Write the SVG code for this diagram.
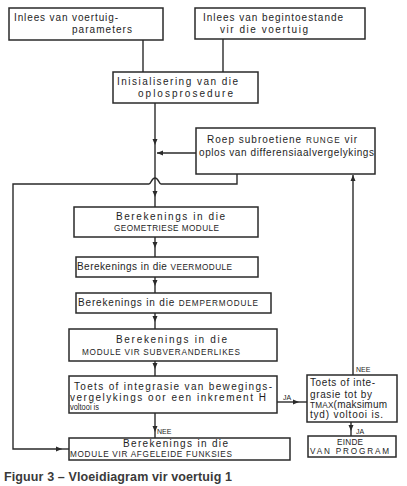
<svg xmlns="http://www.w3.org/2000/svg" width="407" height="486" viewBox="0 0 407 486">
<style>
.box{fill:#fff;stroke:#2a2a2a;stroke-width:1.5}
.c{fill:none;stroke:#2a2a2a;stroke-width:1.4}
text{font-family:"Liberation Sans",Arial,sans-serif;fill:#1e1e1e}
.t{font-size:10px}
.s{font-size:8.2px}
.lb{font-size:7px}
.cap{font-size:12.5px;font-weight:bold;fill:#3a3a3a}
</style>
<defs>
<marker id="ah" markerUnits="userSpaceOnUse" markerWidth="7" markerHeight="6" refX="6" refY="3" orient="auto">
<path d="M0,0.5 L6,3 L0,5.5 z" fill="#2a2a2a"/>
</marker>
</defs>
<rect width="407" height="486" fill="#fff"/>
<g id="connectors">
<path class="c" d="M143,40 V72"/>
<path class="c" d="M223,39 V72"/>
<path class="c" d="M155,103 V145" marker-end="url(#ah)"/>
<path class="c" d="M155,145 V197" marker-end="url(#ah)"/>
<path class="c" d="M155,197 V207"/>
<path class="c" d="M196,153 H157" marker-end="url(#ah)"/>
<path class="c" d="M237,174 V184 H161 C159,184 158.5,178 155,178 C151.5,178 151,184 149,184 H13 V449 H62" marker-end="url(#ah)"/>
<path class="c" d="M62,449 H69"/>
<path class="c" d="M155,237 V248" marker-end="url(#ah)"/>
<path class="c" d="M155,248 V257"/>
<path class="c" d="M155,277 V286" marker-end="url(#ah)"/>
<path class="c" d="M155,286 V293"/>
<path class="c" d="M155,313 V322" marker-end="url(#ah)"/>
<path class="c" d="M155,322 V329"/>
<path class="c" d="M155,361 V369" marker-end="url(#ah)"/>
<path class="c" d="M155,369 V376"/>
<path class="c" d="M155,413 V432" marker-end="url(#ah)"/>
<path class="c" d="M155,432 V438"/>
<path class="c" d="M277,402 H299" marker-end="url(#ah)"/>
<path class="c" d="M299,402 H307"/>
<path class="c" d="M353,375 V175" marker-end="url(#ah)"/>
<path class="c" d="M351,422 V431" marker-end="url(#ah)"/>
<path class="c" d="M351,431 V436"/>
<text class="lb" x="157" y="434">NEE</text>
<text class="lb" x="356" y="372">NEE</text>
<text class="lb" x="283" y="400">JA</text>
<text class="lb" x="356" y="434">JA</text>
</g>
<g id="n1">
<rect class="box" x="9" y="8" width="154" height="32"/>
<text class="t" x="14" y="21" textLength="104" lengthAdjust="spacing">Inlees van voertuig-</text>
<text class="t" x="72" y="33" textLength="60" lengthAdjust="spacing">parameters</text>
</g>
<g id="n2">
<rect class="box" x="195" y="8" width="170" height="31"/>
<text class="t" x="203" y="21" textLength="140" lengthAdjust="spacing">Inlees van begintoestande</text>
<text class="t" x="220" y="33" textLength="88" lengthAdjust="spacing">vir die voertuig</text>
</g>
<g id="n3">
<rect class="box" x="113" y="72" width="145" height="31"/>
<text class="t" x="117" y="85" textLength="121" lengthAdjust="spacing">Inisialisering van die</text>
<text class="t" x="138" y="97" textLength="95" lengthAdjust="spacing">oplosprosedure</text>
</g>
<g id="n4">
<rect class="box" x="196" y="128" width="179" height="46"/>
<text class="t" x="207" y="143" textLength="150" lengthAdjust="spacing">Roep subroetiene <tspan class="s">RUNGE</tspan> vir</text>
<text class="t" x="199" y="156" textLength="175" lengthAdjust="spacing">oplos van differensiaalvergelykings</text>
</g>
<g id="n5">
<rect class="box" x="74" y="207" width="184" height="30"/>
<text class="t" x="116" y="220" textLength="109" lengthAdjust="spacing">Berekenings in die</text>
<text class="s" x="114" y="231" textLength="105" lengthAdjust="spacing">GEOMETRIESE MODULE</text>
</g>
<g id="n6">
<rect class="box" x="76" y="257" width="182" height="20"/>
<text class="t" x="77" y="270" textLength="155" lengthAdjust="spacing">Berekenings in die <tspan class="s">VEERMODULE</tspan></text>
</g>
<g id="n7">
<rect class="box" x="76" y="293" width="195" height="20"/>
<text class="t" x="78" y="306" textLength="180" lengthAdjust="spacing">Berekenings in die <tspan class="s">DEMPERMODULE</tspan></text>
</g>
<g id="n8">
<rect class="box" x="69" y="329" width="208" height="32"/>
<text class="t" x="116" y="343" textLength="111" lengthAdjust="spacing">Berekenings in die</text>
<text class="s" x="82" y="355" textLength="158" lengthAdjust="spacing">MODULE VIR SUBVERANDERLIKES</text>
</g>
<g id="n9">
<rect class="box" x="69" y="376" width="208" height="37"/>
<text class="t" x="74" y="390" textLength="198" lengthAdjust="spacing">Toets of integrasie van bewegings-</text>
<text class="t" x="70" y="401" textLength="196" lengthAdjust="spacing">vergelykings oor een inkrement H</text>
<text class="t" x="70" y="410" style="font-size:9px" textLength="29" lengthAdjust="spacingAndGlyphs">voltooi is</text>
</g>
<g id="n10">
<rect class="box" x="307" y="375" width="90" height="47"/>
<text class="t" x="310" y="386" textLength="65" lengthAdjust="spacing">Toets of inte-</text>
<text class="t" x="310" y="398" textLength="62" lengthAdjust="spacing">grasie tot by</text>
<text class="t" x="310" y="408" textLength="77" lengthAdjust="spacing"><tspan class="s">TMAX</tspan>(maksimum</text>
<text class="t" x="310" y="418" textLength="73" lengthAdjust="spacing">tyd) voltooi is.</text>
</g>
<g id="n11">
<rect class="box" x="308" y="436" width="88" height="21"/>
<text class="s" x="337" y="445" textLength="26" lengthAdjust="spacing">EINDE</text>
<text class="s" x="310" y="454" textLength="79" lengthAdjust="spacing">VAN PROGRAM</text>
</g>
<g id="n12">
<rect class="box" x="69" y="438" width="221" height="22"/>
<text class="t" x="123" y="447" textLength="105" lengthAdjust="spacing">Berekenings in die</text>
<text class="s" x="70" y="457" textLength="162" lengthAdjust="spacing">MODULE VIR AFGELEIDE FUNKSIES</text>
</g>
<text class="cap" x="4" y="481" textLength="228" lengthAdjust="spacing">Figuur 3 – Vloeidiagram vir voertuig 1</text>
</svg>
